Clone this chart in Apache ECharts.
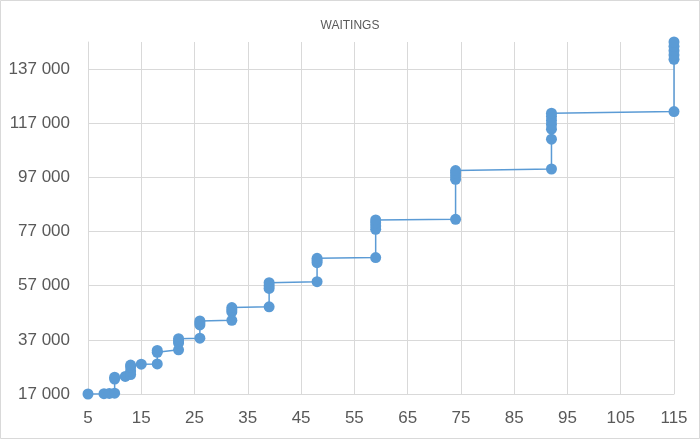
<!DOCTYPE html>
<html>
<head>
<meta charset="utf-8">
<script src="https://cdn.jsdelivr.net/npm/echarts@6/dist/echarts.min.js"></script>
<style>
html,body{margin:0;padding:0;background:#fff;}
#c{width:700px;height:439px;}
</style>
</head>
<body>
<div id="c"></div>
<script>
// Chart values
const titleText = 'WAITINGS';
const xValues = [5, 8, 9, 10, 10, 10, 12, 13, 13, 13, 13, 15,
  18, 18, 18, 22, 22, 22, 22, 26, 26, 26, 26, 32, 32, 32, 32,
  39, 39, 39, 39, 48, 48, 48, 48, 59, 59, 59, 59, 59,
  74, 74, 74, 74, 74, 92, 92, 92, 92, 92, 92, 92,
  115, 115, 115, 115, 115, 115];
const yValues = [17000, 17100, 17200, 17300, 22500, 23200, 23500, 24200, 25500, 27000, 27700, 28000,
  28100, 32400, 33100, 33300, 35800, 36600, 37400, 37600, 42500, 43200, 44000, 44200, 47300, 48100, 48900,
  49200, 56000, 57000, 58100, 58500, 65500, 66300, 67100, 67400, 77800, 79000, 80200, 81300,
  81500, 96300, 97500, 98600, 99500, 100100, 111100, 114800, 116500, 118000, 119500, 120700,
  121300, 140600, 142200, 143800, 145400, 147000];
const xTicks = [5, 15, 25, 35, 45, 55, 65, 75, 85, 95, 105, 115];
const yTicks = [17000, 37000, 57000, 77000, 97000, 117000, 137000];

const points = xValues.map((x, i) => [x, yValues[i]]);
const fontFam = 'Liberation Sans, Arial, sans-serif';
const chart = echarts.init(document.getElementById('c'), null, {renderer: 'canvas'});
chart.setOption({
  animation: false,
  backgroundColor: '#ffffff',
  title: {
    text: titleText,
    left: 'center',
    top: 15,
    textStyle: {fontSize: 12, fontWeight: 'normal', color: '#595959', fontFamily: fontFam}
  },
  graphic: [{
    type: 'rect',
    shape: {x: 0.5, y: 0.5, width: 699, height: 438},
    style: {fill: 'none', stroke: '#d9d9d9', lineWidth: 1},
    silent: true
  }],
  grid: {left: 88, right: 26, top: 42, bottom: 45, containLabel: false},
  xAxis: {
    type: 'value',
    min: xTicks[0],
    max: xTicks[xTicks.length - 1],
    interval: 10,
    axisLine: {show: true, lineStyle: {color: '#d9d9d9', width: 1}},
    axisTick: {show: false},
    splitLine: {show: true, lineStyle: {color: '#d9d9d9', width: 1}},
    axisLabel: {color: '#595959', fontSize: 17, fontFamily: fontFam, margin: 16}
  },
  yAxis: {
    type: 'value',
    min: yTicks[0],
    max: 147000,
    interval: 20000,
    axisLine: {show: true, lineStyle: {color: '#d9d9d9', width: 1}},
    axisTick: {show: false},
    splitLine: {show: true, showMaxLine: false, lineStyle: {color: '#d9d9d9', width: 1}},
    axisLabel: {
      color: '#595959', fontSize: 17, fontFamily: fontFam, margin: 18,
      formatter: function (v) {
        if (yTicks.indexOf(v) < 0) return '';
        return String(v).replace(/\B(?=(\d{3})+(?!\d))/g, ' ');
      }
    }
  },
  series: [{
    type: 'line',
    data: points,
    symbol: 'circle',
    symbolSize: 11,
    showAllSymbol: true,
    clip: false,
    itemStyle: {color: '#5B9BD5'},
    lineStyle: {color: '#5B9BD5', width: 1.5}
  }]
});
</script>
</body>
</html>
